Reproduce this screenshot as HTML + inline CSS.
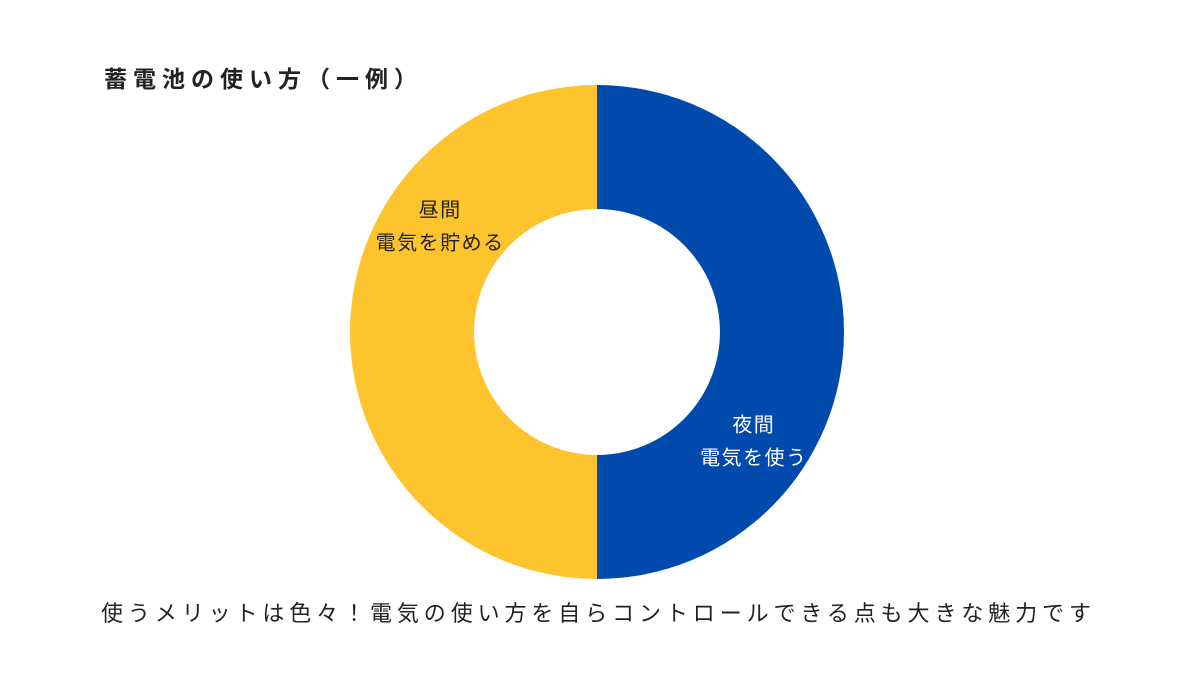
<!DOCTYPE html>
<html lang="ja">
<head>
<meta charset="utf-8">
<style>
  html,body{margin:0;padding:0;background:#fff;}
  body{width:1200px;height:675px;position:relative;overflow:hidden;font-family:"Liberation Sans","Noto Sans CJK JP",sans-serif;}
  #title{position:absolute;left:104px;top:60px;font-size:23px;font-weight:bold;color:#222;letter-spacing:6px;white-space:nowrap;}
  #caption{position:absolute;left:101px;top:596px;font-size:22px;color:#222;letter-spacing:4.9px;white-space:nowrap;}
  svg{position:absolute;left:0;top:0;}
</style>
</head>
<body>
<div id="title">蓄電池の使い方（一例）</div>
<svg id="chart" width="1200" height="675"></svg>
<div id="caption">使うメリットは色々！電気の使い方を自らコントロールできる点も大きな魅力です</div>
<script>
const categories = ["夜間|電気を使う", "昼間|電気を貯める"];
const values = [50, 50];
const colors = ["#004AAD", "#FDC42E"];
const labelColors = ["#ffffff", "#222222"];

const NS = "http://www.w3.org/2000/svg";
const svg = document.getElementById("chart");
const cx = 597, cy = 332, R = 247, r = 123;
const total = values.reduce((a,b)=>a+b,0);
function angleOf(v){ return v / total * Math.PI * 2; }
function pt(rad, a){ return [cx + rad*Math.sin(a), cy - rad*Math.cos(a)]; }
let start = 0;
values.forEach((v,i)=>{
  const end = start + angleOf(v);
  const large = (end - start) > Math.PI ? 1 : 0;
  const [x1,y1] = pt(R,start), [x2,y2] = pt(R,end);
  const [x3,y3] = pt(r,end), [x4,y4] = pt(r,start);
  const p = document.createElementNS(NS,"path");
  p.setAttribute("d",`M${x1},${y1} A${R},${R} 0 ${large} 1 ${x2},${y2} L${x3},${y3} A${r},${r} 0 ${large} 0 ${x4},${y4} Z`);
  p.setAttribute("fill",colors[i]);
  
  
  svg.appendChild(p);
  const mid = (start+end)/2;
  const lr = (R + r)/2 + 5;
  const [lx,ly] = [cx + lr*Math.sin(mid+0.45*Math.sign(Math.PI-mid)), 0];
  const a2 = mid < Math.PI ? mid + 0.6 : mid + 0.6;
  const [tx,ty] = pt(lr, a2);
  const lines = categories[i].split("|");
  lines.forEach((ln,k)=>{
    const t = document.createElementNS(NS,"text");
    t.setAttribute("x",tx);
    t.setAttribute("y",ty - 8 + k*33);
    t.setAttribute("text-anchor","middle");
    t.setAttribute("font-size","20");
    t.setAttribute("letter-spacing","1.5");
    t.setAttribute("fill",labelColors[i]);
    t.setAttribute("font-family",'"Liberation Sans","Noto Sans CJK JP",sans-serif');
    t.textContent = ln;
    
    
    svg.appendChild(t);
  });
  start = end;
});
</script>
</body>
</html>
